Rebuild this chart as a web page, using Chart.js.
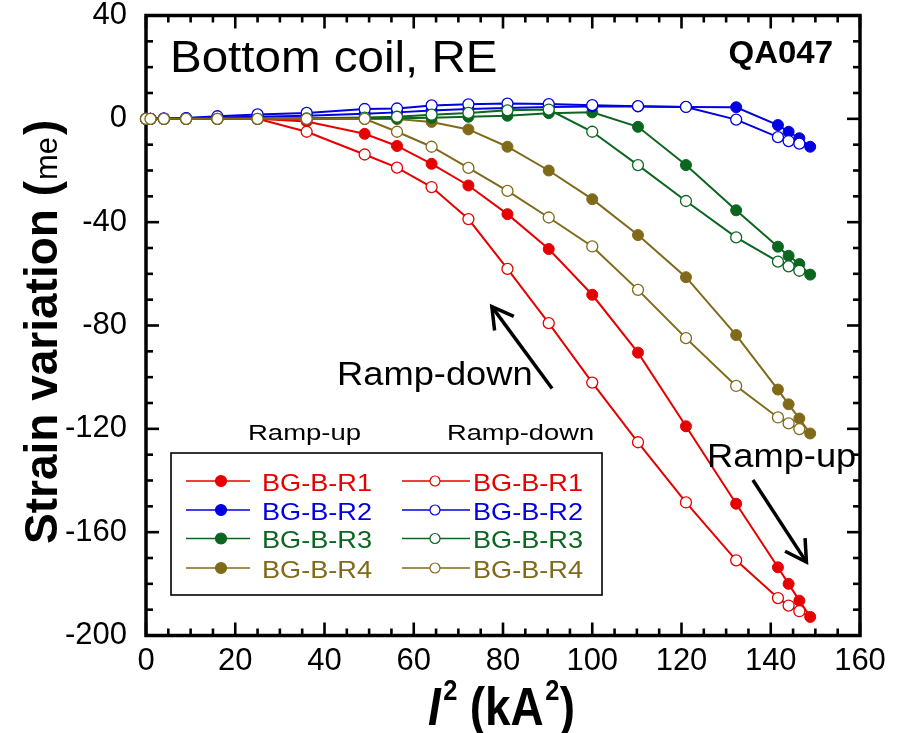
<!DOCTYPE html>
<html>
<head>
<meta charset="utf-8">
<script src="https://cdn.jsdelivr.net/npm/chart.js@4.4.1/dist/chart.umd.min.js"></script>
<style>
  html, body { margin: 0; padding: 0; background: #fff; overflow: hidden; }
  canvas { display: block; }
</style>
</head>
<body>
<canvas id="c" width="901" height="733"></canvas>
<script>
// I^2 values (kA^2) at each measurement step: 0..11.5 kA in 0.5 kA steps, then 11.9, 12.0, 12.1, 12.2 kA
const currentSq = [0, 1, 4, 9, 16, 25, 36, 49, 56.25, 64, 72.25, 81, 90.25, 100, 110.25, 121, 132.25, 141.61, 144, 146.41, 148.84];

// Strain variation (me), listed in the same order as currentSq
const r1Up   = [0, 0, 0, 0, 0, 0, -1.0, -5.8, -10.5, -17.4, -25.8, -36.9, -50.4, -68.1, -90.5, -119.0, -149.0, -173.6, -180.0, -186.5, -192.8];
const r1Down = [0, 0, 0, 0, 0, 0, -5.0, -13.8, -18.9, -26.4, -38.8, -58.1, -79.1, -102.1, -125.2, -148.5, -170.9, -185.5, -188.4, -190.6, -192.8];
const r2Up   = [0, 0, 0, 0.3, 0.5, 0.8, 1.2, 2.0, 2.5, 3.2, 3.8, 4.2, 4.6, 4.8, 4.8, 4.6, 4.5, -2.4, -5.0, -7.5, -10.8];
const r2Down = [0, 0, 0.2, 0.3, 1.0, 1.7, 2.3, 3.8, 4.0, 5.2, 5.6, 5.9, 5.7, 5.3, 4.9, 4.6, -0.3, -7.1, -8.6, -9.6, -10.8];
const r3Up   = [0, 0, 0, 0, 0, 0, 0, 0, 0.2, 0.4, 0.8, 1.2, 2.2, 2.5, -3.1, -17.9, -35.4, -49.5, -53.0, -56.2, -60.3];
const r3Down = [0, 0, 0, 0, 0, 0, 0.2, 0.5, 0.8, 1.6, 2.3, 3.3, 3.6, -5.0, -17.9, -31.8, -45.9, -55.3, -57.1, -58.8, -60.3];
const r4Up   = [0, 0, 0, 0, 0, 0, 0, 0.1, -0.1, -1.2, -4.1, -10.8, -20.0, -31.1, -45.0, -61.3, -83.7, -104.8, -110.5, -116.0, -121.8];
const r4Down = [0, 0, 0, 0, 0, 0, 0, 0, -5.0, -10.8, -19.0, -27.9, -38.2, -49.4, -66.2, -84.9, -103.4, -115.6, -117.9, -120.1, -121.8];

const gaugeNames = ['BG-B-R1', 'BG-B-R2', 'BG-B-R3', 'BG-B-R4'];
const xTickValues = [0, 20, 40, 60, 80, 100, 120, 140, 160];
const yTickValues = [-200, -160, -120, -80, -40, 0, 40];

const COLORS = ['#e60000', '#0000e0', '#0b661f', '#806a1a'];
const FONT = '"Liberation Sans", Arial, Helvetica, sans-serif';

function series(name, values, color, rampUp) {
  const last = currentSq.length - 1;
  return {
    label: name + (rampUp ? ' ramp-up' : ' ramp-down'),
    data: currentSq.map((x, i) => ({ x, y: values[i] })),
    showLine: true,
    borderColor: color,
    borderWidth: 2,
    tension: 0,
    clip: false,
    pointStyle: 'circle',
    pointRadius: rampUp ? 5.5 : (c => (c.dataIndex === last ? 0 : 5.5)),
    pointHoverRadius: 5.5,
    pointBorderWidth: rampUp ? 1 : 1.3,
    pointBorderColor: color,
    pointBackgroundColor: rampUp ? color : '#ffffff'
  };
}

// first dataset is painted last (on top)
const datasets = [
  series(gaugeNames[3], r4Down, COLORS[3], false),
  series(gaugeNames[2], r3Down, COLORS[2], false),
  series(gaugeNames[1], r2Down, COLORS[1], false),
  series(gaugeNames[0], r1Down, COLORS[0], false),
  series(gaugeNames[0], r1Up, COLORS[0], true),
  series(gaugeNames[1], r2Up, COLORS[1], true),
  series(gaugeNames[2], r3Up, COLORS[2], true),
  series(gaugeNames[3], r4Up, COLORS[3], true)
];

function drawText(ctx, s, x, y, font, sx, align) {
  ctx.save();
  ctx.font = font;
  ctx.fillStyle = '#000';
  ctx.textBaseline = 'alphabetic';
  ctx.translate(x, y);
  ctx.scale(sx || 1, 1);
  const w = ctx.measureText(s).width;
  const dx = align === 'right' ? -w : (align === 'center' ? -w / 2 : 0);
  ctx.fillText(s, dx, 0);
  ctx.restore();
  return w * (sx || 1);
}

function seg(ctx, x1, y1, x2, y2) {
  ctx.beginPath(); ctx.moveTo(x1, y1); ctx.lineTo(x2, y2); ctx.stroke();
}

// Box with inward ticks on all four sides
const framePlugin = {
  id: 'frame',
  beforeDatasetsDraw(chart) {
    const { ctx, chartArea: a, scales: { x, y } } = chart;
    ctx.save();
    ctx.strokeStyle = '#000';
    ctx.lineWidth = 2.6;
    ctx.lineCap = 'butt';
    for (let v = x.min; v <= x.max; v += 5) {
      const px = x.getPixelForValue(v);
      const L = v % 20 === 0 ? 13 : 7;
      seg(ctx, px, a.bottom, px, a.bottom - L);
      seg(ctx, px, a.top, px, a.top + L);
    }
    for (let v = y.min; v <= y.max; v += 10) {
      const py = y.getPixelForValue(v);
      const L = v % 40 === 0 ? 13 : 7;
      seg(ctx, a.left, py, a.left + L, py);
      seg(ctx, a.right, py, a.right - L, py);
    }
    ctx.lineWidth = 3.5;
    ctx.strokeRect(a.left, a.top, a.right - a.left, a.bottom - a.top);
    ctx.restore();
  }
};

function arrow(ctx, tail, tip, wing) {
  const ang = Math.atan2(tail[1] - tip[1], tail[0] - tip[0]);
  seg(ctx, tail[0], tail[1], tip[0], tip[1]);
  const spread = 0.52;
  ctx.beginPath();
  ctx.moveTo(tip[0] + wing * Math.cos(ang - spread), tip[1] + wing * Math.sin(ang - spread));
  ctx.lineTo(tip[0], tip[1]);
  ctx.lineTo(tip[0] + wing * Math.cos(ang + spread), tip[1] + wing * Math.sin(ang + spread));
  ctx.stroke();
}

const annotationPlugin = {
  id: 'annotations',
  afterDraw(chart) {
    const { ctx, scales: { x, y } } = chart;

    // vertical axis title: bold text with the unit set lighter
    ctx.save();
    ctx.translate(57, 544);
    ctx.rotate(-Math.PI / 2);
    ctx.fillStyle = '#000';
    ctx.textBaseline = 'alphabetic';
    ctx.font = 'bold 46px ' + FONT;
    let cx = 0;
    ctx.fillText('Strain variation (', cx, 0);
    cx += ctx.measureText('Strain variation (').width + 1;
    ctx.font = '31px ' + FONT;
    ctx.fillText('me', cx, 0);
    cx += ctx.measureText('me').width + 2;
    ctx.font = 'bold 46px ' + FONT;
    ctx.fillText(')', cx, 0);
    ctx.restore();

    // horizontal axis title
    ctx.save();
    ctx.translate(428, 725);
    ctx.scale(0.85, 1);
    ctx.fillStyle = '#000';
    ctx.textBaseline = 'alphabetic';
    ctx.font = 'italic bold 54px ' + FONT;
    ctx.fillText('I', 0, 0);
    ctx.font = 'bold 30px ' + FONT;
    ctx.fillText('2', 18, -25);
    ctx.font = 'bold 54px ' + FONT;
    ctx.fillText('(kA', 49, 0);
    let w = ctx.measureText('(kA').width;
    ctx.font = 'bold 30px ' + FONT;
    ctx.fillText('2', 49 + w + 2, -25);
    ctx.font = 'bold 54px ' + FONT;
    ctx.fillText(')', 49 + w + 19, 0);
    ctx.restore();

    // panel labels
    drawText(ctx, 'Bottom coil, RE', 170, 72, '44px ' + FONT, 1.08, 'left');
    drawText(ctx, 'QA047', 833, 63, 'bold 32px ' + FONT, 1.03, 'right');

    // ramp arrows, anchored in data coordinates
    ctx.save();
    ctx.strokeStyle = '#000';
    ctx.lineWidth = 3.5;
    ctx.lineCap = 'butt';
    ctx.lineJoin = 'miter';
    arrow(ctx,
      [x.getPixelForValue(91.0), y.getPixelForValue(-104.4)],
      [x.getPixelForValue(77.5), y.getPixelForValue(-72.7)], 24);
    arrow(ctx,
      [x.getPixelForValue(136.0), y.getPixelForValue(-139.8)],
      [x.getPixelForValue(148.0), y.getPixelForValue(-171.6)], 24);
    ctx.restore();
    drawText(ctx, 'Ramp-down', 337, 385, '33px ' + FONT, 1.1, 'left');
    drawText(ctx, 'Ramp-up', 707, 467, '33px ' + FONT, 1.1, 'left');

    // legend: ramp-up column (filled markers) and ramp-down column (open markers)
    drawText(ctx, 'Ramp-up', 248, 440, '22px ' + FONT, 1.25, 'left');
    drawText(ctx, 'Ramp-down', 447, 440, '22px ' + FONT, 1.24, 'left');
    ctx.save();
    ctx.strokeStyle = '#000';
    ctx.lineWidth = 1.6;
    ctx.strokeRect(171, 453, 431, 142);
    ctx.restore();
    const rowsY = [481, 510, 538.5, 568];
    const cols = [
      { x1: 186, x2: 250, mx: 221, tx: 262, filled: true },
      { x1: 402, x2: 470, mx: 435, tx: 473, filled: false }
    ];
    gaugeNames.forEach((name, i) => {
      const ry = rowsY[i];
      cols.forEach(col => {
        ctx.save();
        ctx.strokeStyle = COLORS[i];
        ctx.lineWidth = 1.4;
        seg(ctx, col.x1, ry, col.x2, ry);
        ctx.beginPath();
        ctx.arc(col.mx, ry, col.filled ? 5.5 : 5, 0, Math.PI * 2);
        ctx.fillStyle = col.filled ? COLORS[i] : '#fff';
        ctx.fill();
        ctx.lineWidth = 1.2;
        ctx.stroke();
        ctx.restore();
        ctx.save();
        ctx.fillStyle = COLORS[i];
        ctx.font = '24px ' + FONT;
        ctx.translate(col.tx, ry + 9.5);
        ctx.scale(1.13, 1);
        ctx.fillText(name, 0, 0);
        ctx.restore();
      });
    });
  }
};

new Chart(document.getElementById('c'), {
  type: 'scatter',
  data: { datasets },
  options: {
    responsive: false,
    animation: false,
    devicePixelRatio: 1,
    layout: { padding: { left: 0, right: 41, top: 15.5, bottom: 0 } },
    plugins: { legend: { display: false }, tooltip: { enabled: false } },
    scales: {
      x: {
        type: 'linear',
        position: 'bottom',
        min: 0,
        max: 160,
        afterBuildTicks: s => { s.ticks = xTickValues.map(v => ({ value: v })); },
        afterFit: s => { s.height = 97.5; s.paddingLeft = 0; s.paddingRight = 0; },
        grid: { display: false, drawTicks: false },
        border: { display: false },
        ticks: {
          callback: v => String(v),
          font: { family: FONT, size: 31 },
          color: '#000',
          padding: 7,
          maxRotation: 0,
          autoSkip: false
        }
      },
      y: {
        type: 'linear',
        position: 'left',
        min: -200,
        max: 40,
        afterBuildTicks: s => { s.ticks = yTickValues.map(v => ({ value: v })); },
        afterFit: s => { s.width = 146; s.paddingTop = 0; s.paddingBottom = 0; },
        grid: { display: false, drawTicks: false },
        border: { display: false },
        ticks: {
          callback: v => String(v),
          font: { family: FONT, size: 31 },
          color: '#000',
          padding: 19,
          autoSkip: false
        }
      }
    }
  },
  plugins: [framePlugin, annotationPlugin]
});
</script>
</body>
</html>
